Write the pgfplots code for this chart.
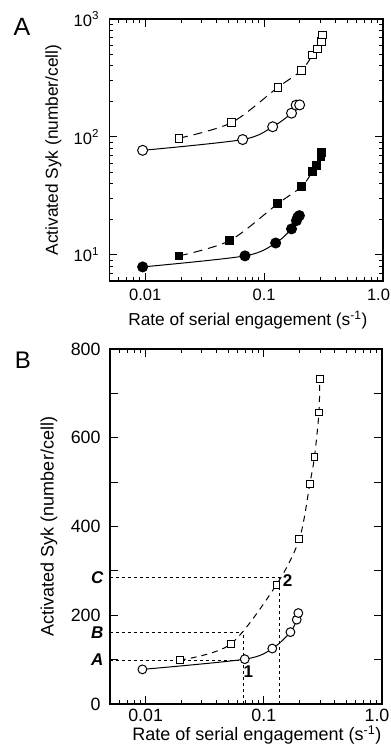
\documentclass[border=0pt]{standalone}
\usepackage{pgfplots}
\pgfplotsset{compat=1.18}
\usepackage{fontspec}
\setmainfont{Liberation Sans}
\setsansfont{Liberation Sans}

\pgfplotstableread{
x y
0.0095 77
0.066 95
0.118 122
0.17 159
0.186 186
0.199 187
}\Aopencirc
\pgfplotstableread{
x y
0.0192 97.5
0.053 132
0.131 264
0.207 367
0.255 495
0.281 557
0.304 646
0.31 731
}\Aopensq
\pgfplotstableread{
x y
0.0095 7.9
0.069 9.8
0.125 12.6
0.17 16.6
0.187 19.5
0.192 20.9
0.198 21.5
}\Afilledcirc
\pgfplotstableread{
x y
0.0192 9.8
0.0513 13.2
0.13 27.1
0.207 37.9
0.255 50.8
0.275 57
0.300 68
0.305 73.6
}\Afilledsq
\pgfplotstableread{
x y
0.0094 78
0.069 101
0.118 125
0.168 162
0.19 190
0.196 205
}\Bcirc
\pgfplotstableread{
x y
0.0195 99
0.0525 135
0.128 269
0.2 372
0.245 496
0.268 556
0.293 657
0.297 732
}\Bsq

\begin{document}
\begin{tikzpicture}
\useasboundingbox (0,0) rectangle (391pt,-745pt);
\node[font=\fontsize{25}{28}\selectfont] at (22pt,-27pt) {A};
\node[font=\fontsize{24}{28}\selectfont] at (23pt,-360pt) {B};

\begin{axis}[
  xmode=log, ymode=log,
  scale only axis,
  at={(109.5pt,-19pt)}, anchor=north west,
  width=273.5pt, height=262pt,
  xmin=0.005, xmax=1, ymin=6, ymax=1000,
  xtick={0.01,0.1,1}, xticklabels={0.01,0.1,\hspace*{-9pt}1.0},
  minor xtick={0.006,0.007,0.008,0.009,0.02,0.03,0.04,0.05,0.06,0.07,0.08,0.09,0.2,0.3,0.4,0.5,0.6,0.7,0.8,0.9},
  ytick={10,100,1000},
  yticklabels={10\textsuperscript{1},10\textsuperscript{2},10\textsuperscript{3}},
  minor ytick={7,8,9,20,30,40,50,60,70,80,90,200,300,400,500,600,700,800,900},
  tick align=inside, major tick length=8pt, minor tick length=4pt,
  every tick/.style={black, line width=1pt},
  axis line style={line width=1.8pt},
  clip=false,
  ticklabel style={font=\fontsize{16.5}{18}\selectfont},
  xticklabel style={yshift=-4pt},
  yticklabel style={xshift=-7pt},
  xlabel={Rate of serial engagement (s\textsuperscript{-1})},
  ylabel={Activated Syk (number/cell)},
  label style={font=\fontsize{17.3}{20}\selectfont},
  xlabel style={at={(axis description cs:0.506,-0.148)}, anchor=center},
  ylabel style={at={(axis description cs:-0.205,0.5)}, anchor=center},
]
\addplot[black, line width=1pt, smooth, mark=*, mark size=5pt,
  mark options={fill=white, draw=black, line width=1pt}] table {\Aopencirc};
\addplot[black, line width=1pt, smooth, dash pattern=on 9pt off 6pt, mark=square*, mark size=3.8pt,
  mark options={solid, fill=white, draw=black, line width=1pt}] table {\Aopensq};
\addplot[black, line width=1pt, smooth, mark=*, mark size=5pt,
  mark options={fill=black, draw=black}] table {\Afilledcirc};
\addplot[black, line width=1pt, smooth, dash pattern=on 9pt off 6pt, mark=square*, mark size=3.8pt,
  mark options={solid, fill=black, draw=black}] table {\Afilledsq};
\end{axis}

\begin{axis}[
  xmode=log,
  scale only axis,
  at={(110pt,-349pt)}, anchor=north west,
  width=272pt, height=355pt,
  xmin=0.005, xmax=1, ymin=0, ymax=800,
  xtick={0.01,0.1,1}, xticklabels={0.01,0.1,\hspace*{-10pt}1.0},
  minor xtick={0.006,0.007,0.008,0.009,0.02,0.03,0.04,0.05,0.06,0.07,0.08,0.09,0.2,0.3,0.4,0.5,0.6,0.7,0.8,0.9},
  ytick={0,100,...,800},
  yticklabels={0,,200,,400,,600,,800},
  tick align=inside, major tick length=8pt, minor tick length=4pt,
  every tick/.style={black, line width=1pt},
  axis line style={line width=1.8pt},
  clip=false,
  ticklabel style={font=\fontsize{17.8}{20}\selectfont},
  xticklabel style={yshift=-2pt},
  yticklabel style={xshift=-6pt},
  xlabel={Rate of serial engagement (s\textsuperscript{-1})},
  ylabel={Activated Syk (number/cell)},
  label style={font=\fontsize{18}{21}\selectfont},
  xlabel style={at={(axis description cs:0.54,-0.087)}, anchor=center},
  ylabel style={at={(axis description cs:-0.224,0.5)}, anchor=center},
]
\addplot[black, line width=0.9pt, dash pattern=on 3.5pt off 2.5pt] coordinates {(0.005,99) (0.0668,99)};
\addplot[black, line width=0.9pt, dash pattern=on 3.5pt off 2.5pt] coordinates {(0.005,161) (0.0668,161)};
\addplot[black, line width=0.9pt, dash pattern=on 3.5pt off 2.5pt] coordinates {(0.0668,0) (0.0668,161)};
\addplot[black, line width=0.9pt, dash pattern=on 3.5pt off 2.5pt] coordinates {(0.005,285) (0.136,285)};
\addplot[black, line width=0.9pt, dash pattern=on 3.5pt off 2.5pt] coordinates {(0.136,0) (0.136,285)};
\addplot[black, line width=1pt, smooth, mark=*, mark size=4.4pt,
  mark options={fill=white, draw=black, line width=1pt}] table {\Bcirc};
\addplot[black, line width=1pt, smooth, dash pattern=on 6pt off 5pt, mark=square*, mark size=3.4pt,
  mark options={solid, fill=white, draw=black, line width=1pt}] table {\Bsq};
\node[font=\fontsize{17}{18}\selectfont\bfseries\itshape, anchor=east] at (axis cs:0.005,99) {A\kern3pt};
\node[font=\fontsize{17}{18}\selectfont\bfseries\itshape, anchor=east] at (axis cs:0.005,161) {B\kern3pt};
\node[font=\fontsize{17}{18}\selectfont\bfseries\itshape, anchor=east] at (axis cs:0.005,285) {C\kern3pt};
\node[font=\fontsize{17}{18}\selectfont\bfseries] at (axis cs:0.074,74) {1};
\node[font=\fontsize{17}{18}\selectfont\bfseries] at (axis cs:0.159,278) {2};
\end{axis}
\end{tikzpicture}
\end{document}
